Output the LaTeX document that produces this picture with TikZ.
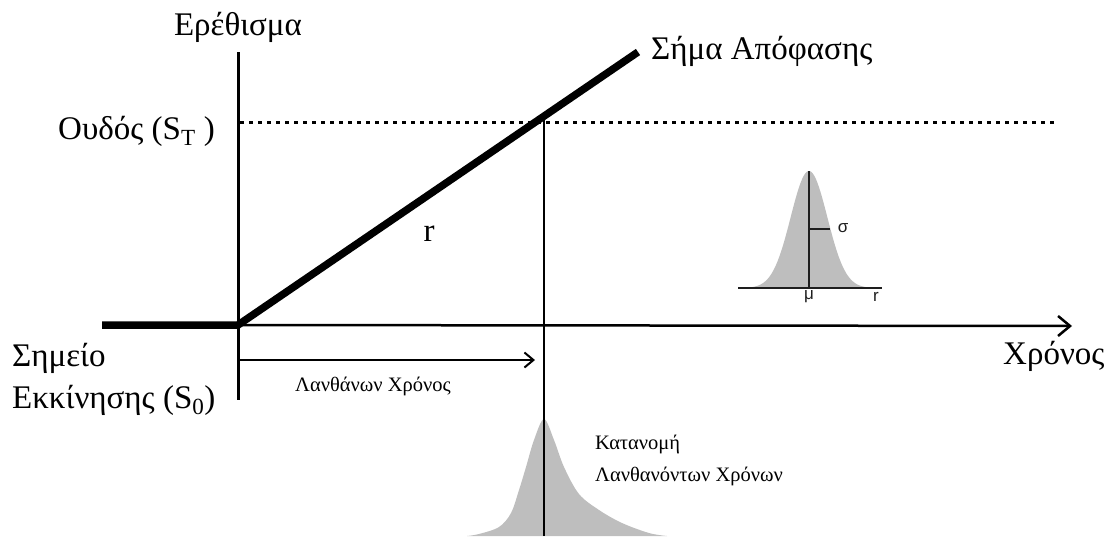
\documentclass[tikz,border=0pt]{standalone}
\usepackage{fontspec}
\setmainfont{Liberation Serif}
\newfontfamily\plotfont{Liberation Sans}
\usepackage{tikz}
\usetikzlibrary{arrows.meta, positioning, calc}
\definecolor{DistGray}{RGB}{190,190,190}
\definecolor{InkDark}{RGB}{30,30,30}

\begin{document}
\begin{tikzpicture}[x=1pt,y=-1pt,
        axisline/.style={draw=black,line width=3pt},
        signal/.style={draw=black,line width=7.5pt},
        thinline/.style={draw=black,line width=2pt},
        threshold/.style={draw=black,line width=3pt,dash pattern=on 3.5pt off 5.5pt},
        label/.style={font=\fontsize{33}{36}\selectfont,inner sep=0pt},
        smalllabel/.style={font=\fontsize{20.5}{24}\selectfont,inner sep=0pt},
        plotlabel/.style={font=\plotfont\fontsize{17}{18}\selectfont,inner sep=0pt,text=InkDark}
      ]
        \useasboundingbox (0,0) rectangle (1116,536);
        \coordinate (O) at (238,325);
        \coordinate (ytop) at (238,52);
        \coordinate (ybot) at (238,400);
        \coordinate (xstart) at (102,325);
        \coordinate (xend) at (1072,326);
        \coordinate (dtop) at (638,52);
        \coordinate (th0) at (240,122);
        \coordinate (th1) at (1057,122);
        \coordinate (cross) at (544,117);
        \coordinate (vbot) at (544,536);
        \coordinate (lat0) at (238,360);
        \coordinate (lat1) at (535,360);
        % distribution of latencies below the axis
        \fill[DistGray] plot[smooth,tension=0.55] coordinates {(467,536) (479,534) (499,527)
          (511,513) (519,490) (526,467) (534,440) (544,419) (554,440) (564,467)
          (579,494) (599,510) (622,523) (649,533) (667,536)} -- cycle;
        \draw[axisline] (ytop) -- (ybot);
        \draw[axisline,line width=2.5pt,-{Straight Barb[length=12pt,width=20pt,line width=2.5pt]}] (O) -- (xend);
        \draw[signal] (xstart) -- (O) -- (dtop);
        \draw[threshold] (th0) -- (th1);
        \draw[thinline] (cross) -- (vbot);
        \draw[thinline,-{Straight Barb[length=9pt,width=15pt,line width=2pt]}] (lat0) -- (lat1);
        % small normal curve
        \coordinate (g0) at (738,288);
        \coordinate (g1) at (882,288);
        \coordinate (gpeak) at (809,171);
        \coordinate (gbase) at (809,288);
        \coordinate (gs0) at (809,229);
        \coordinate (gs1) at (830,229);
        \fill[DistGray] plot[domain=-60:60,samples=80] ({809+\x},{288-117*exp(-0.5*(\x/18.3)^2)}) -- cycle;
        \draw[InkDark,line width=1.4pt] (g0) -- (g1);
        \draw[InkDark,line width=1.4pt] (gpeak) -- (gbase);
        \draw[InkDark,line width=1.4pt] (gs0) -- (gs1);
        \node[plotlabel] (sigma) at (843,228) {σ};
        \node[plotlabel] (mu) at (809,297) {μ};
        \node[plotlabel] (rr) at (876,297) {r};
        \node[label,anchor=base] (stim) at (238,35) {Ερέθισμα};
        \node[label,anchor=base west] (decision) at (651,59) {Σήμα Απόφασης};
        \node[label,anchor=base west] (thresh) at (58,139) {Ουδός (S\textsubscript{T}\ )};
        \node[label,anchor=base west] (start1) at (12,366) {Σημείο};
        \node[label,anchor=base west] (start2) at (12,408) {Εκκίνησης (S\textsubscript{0})};
        \node[label,anchor=base west] (time) at (1003,364) {Χρόνος};
        \node[label,anchor=base] (rate) at (429,241) {r};
        \node[smalllabel,anchor=base] (latency) at (373,391) {Λανθάνων Χρόνος};
        \node[smalllabel,anchor=base west] (distlbl1) at (595,449) {Κατανομή};
        \node[smalllabel,anchor=base west] (distlbl2) at (595,481) {Λανθανόντων Χρόνων};
      \end{tikzpicture}
\end{document}
